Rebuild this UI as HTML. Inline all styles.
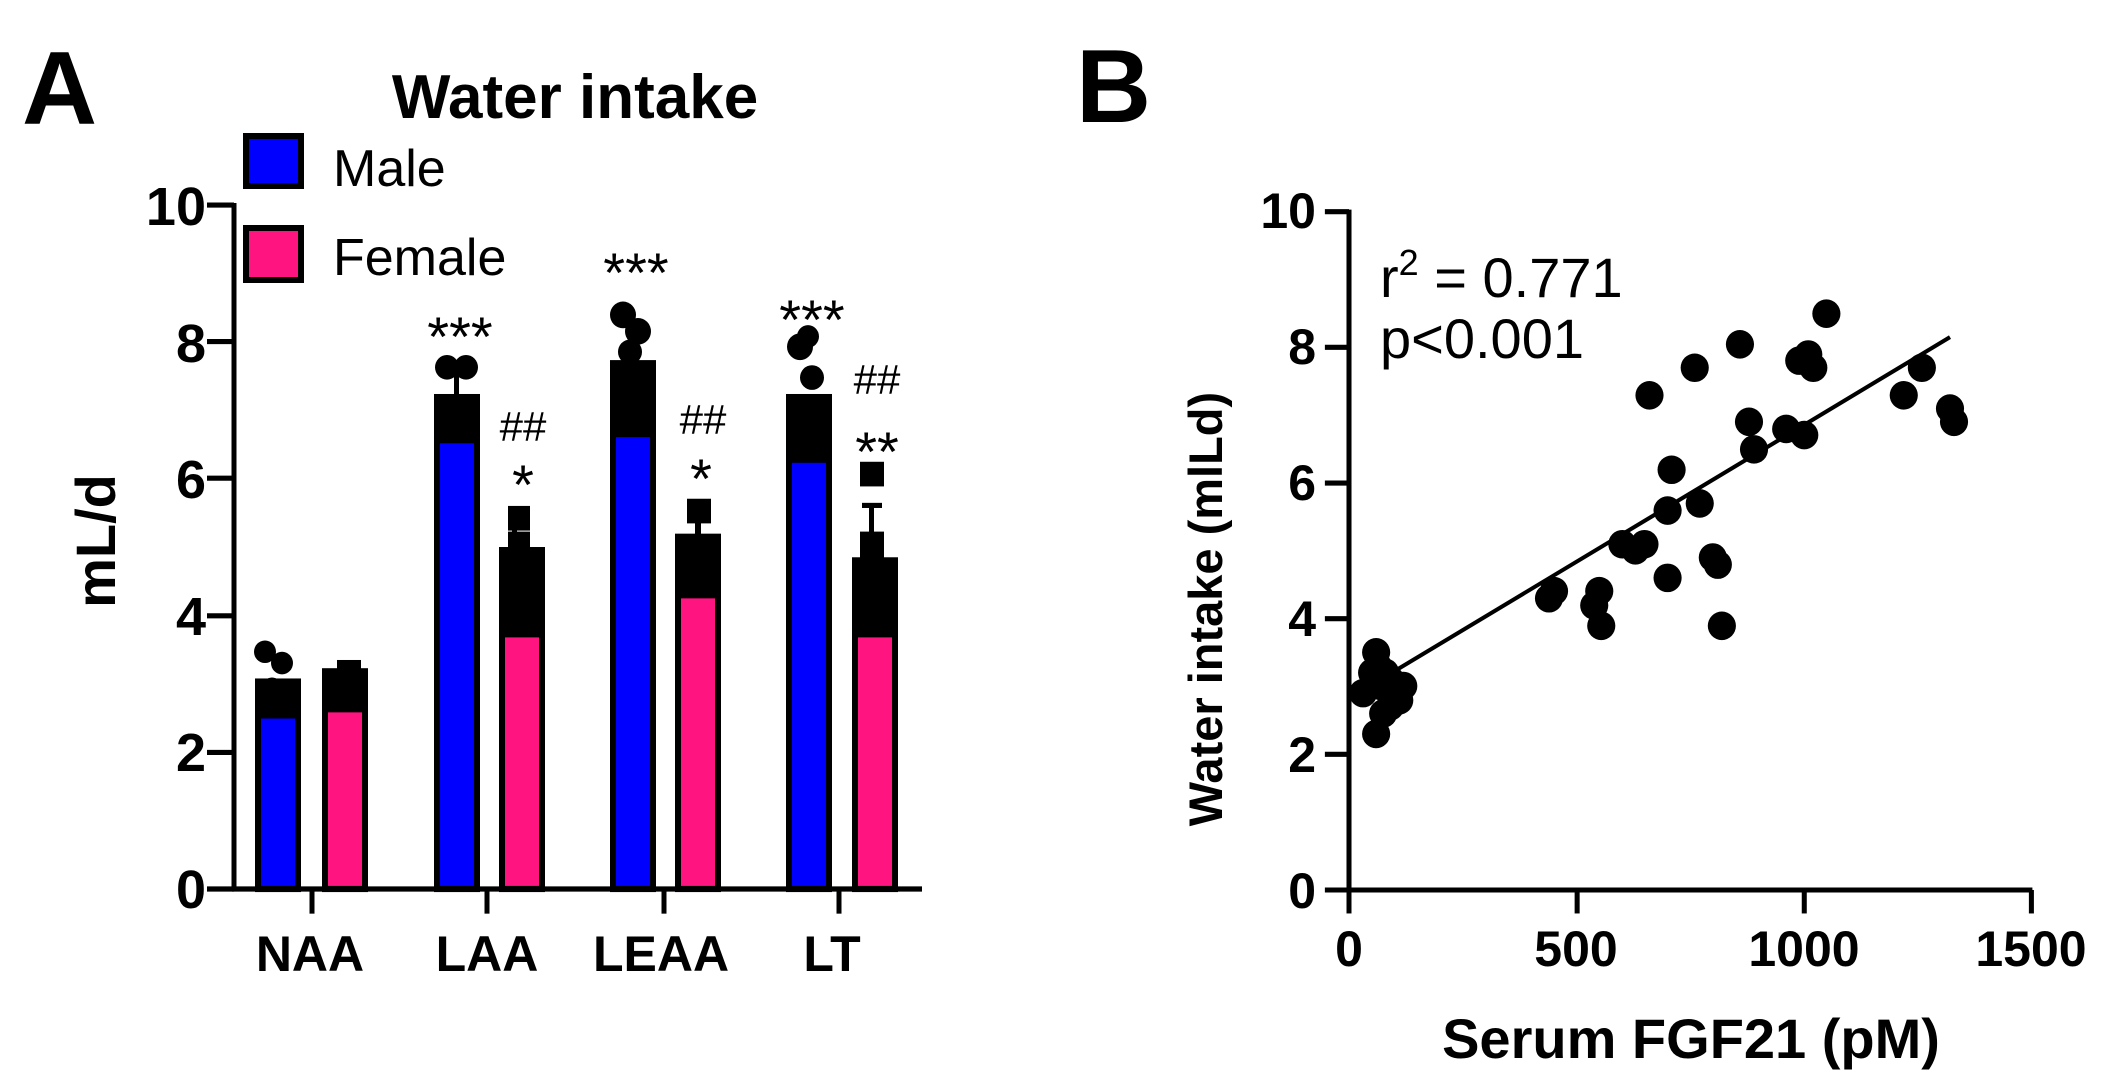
<!DOCTYPE html>
<html><head><meta charset="utf-8"><style>
html,body{margin:0;padding:0;background:#fff}
svg{display:block}
text{font-family:"Liberation Sans",Arial,sans-serif}
</style></head><body>
<svg width="2110" height="1087" viewBox="0 0 2110 1087" xmlns="http://www.w3.org/2000/svg">
<rect width="2110" height="1087" fill="#fff"/>
<!-- Panel A -->
<text x="22" y="124" font-size="104" font-weight="bold">A</text>
<text x="575" y="118" font-size="62" font-weight="bold" text-anchor="middle">Water intake</text>
<rect x="246" y="136" width="55" height="50" fill="#0000ff" stroke="#000" stroke-width="6"/>
<text x="333" y="186" font-size="52">Male</text>
<rect x="246" y="228" width="55" height="52" fill="#ff1480" stroke="#000" stroke-width="6"/>
<text x="333" y="275" font-size="52">Female</text>
<g transform="translate(0,889) scale(1,1.027) translate(0,-868)">
<g stroke="#000" stroke-width="5" fill="none">
<line x1="234" y1="200" x2="234" y2="868"/>
<line x1="232" y1="868" x2="922" y2="868"/>
<line x1="207" y1="202" x2="234" y2="202"/>
<line x1="207" y1="335" x2="234" y2="335"/>
<line x1="207" y1="468" x2="234" y2="468"/>
<line x1="207" y1="602" x2="234" y2="602"/>
<line x1="207" y1="735" x2="234" y2="735"/>
<line x1="207" y1="868" x2="234" y2="868"/>
<line x1="312" y1="868" x2="312" y2="892"/>
<line x1="487" y1="868" x2="487" y2="892"/>
<line x1="664" y1="868" x2="664" y2="892"/>
<line x1="839" y1="868" x2="839" y2="892"/>
</g>
<g stroke="#000" stroke-width="6">
<rect x="258" y="666" width="40" height="202" fill="#0000ff"/>
<rect x="325" y="656" width="40" height="212" fill="#ff1480"/>
<rect x="437" y="389" width="40" height="479" fill="#0000ff"/>
<rect x="502" y="538" width="40" height="330" fill="#ff1480"/>
<rect x="613" y="356" width="40" height="512" fill="#0000ff"/>
<rect x="678" y="525" width="40" height="343" fill="#ff1480"/>
<rect x="789" y="389" width="40" height="479" fill="#0000ff"/>
<rect x="855" y="548" width="40" height="320" fill="#ff1480"/>
</g>
<g fill="#000">
<rect x="258" y="666" width="40" height="36"/>
<rect x="325" y="656" width="40" height="40"/>
<rect x="437" y="389" width="40" height="45"/>
<rect x="502" y="538" width="40" height="85"/>
<rect x="613" y="356" width="40" height="72"/>
<rect x="678" y="525" width="40" height="60"/>
<rect x="789" y="389" width="40" height="64"/>
<rect x="855" y="548" width="40" height="75"/>
<circle cx="265" cy="637" r="11"/><circle cx="282" cy="648" r="11"/><circle cx="272" cy="672" r="10"/>
<rect x="337" y="645" width="24" height="22"/>
<circle cx="447" cy="360" r="12"/><circle cx="466" cy="360" r="12"/><rect x="454" y="360" width="5" height="30"/>
<rect x="508" y="495" width="22" height="24"/><rect x="508" y="520" width="22" height="24"/><rect x="512" y="508" width="5" height="20"/>
<circle cx="623" cy="309" r="13"/><circle cx="638" cy="325" r="13"/><circle cx="630" cy="345" r="12"/>
<rect x="687" y="488" width="24" height="24"/><rect x="695" y="510" width="6" height="16"/>
<circle cx="800" cy="340" r="13"/><circle cx="808" cy="330" r="11"/><circle cx="812" cy="370" r="12"/>
<rect x="860" y="452" width="24" height="24"/><rect x="860" y="520" width="24" height="26"/>
<rect x="869" y="495" width="5" height="30"/><rect x="862" y="492" width="20" height="5"/>
</g>
</g>
<g font-size="54" font-weight="bold" text-anchor="end">
<text x="206" y="225">10</text><text x="206" y="362">8</text><text x="206" y="498">6</text>
<text x="206" y="635">4</text><text x="206" y="771">2</text><text x="206" y="908">0</text>
</g>
<text transform="translate(115,541) rotate(-90)" font-size="56" font-weight="bold" text-anchor="middle">mL/d</text>
<g font-size="50" font-weight="bold" text-anchor="middle">
<text x="310" y="971">NAA</text><text x="487" y="971">LAA</text><text x="661" y="971">LEAA</text><text x="832" y="971">LT</text>
</g>
<g font-size="56" text-anchor="middle">
<text x="460" y="356">***</text>
<text x="636" y="292">***</text>
<text x="812" y="339">***</text>
<text x="523" y="504">*</text>
<text x="701" y="498">*</text>
<text x="877" y="471">**</text>
</g>
<g font-size="42" text-anchor="middle">
<text x="523" y="441">##</text>
<text x="703" y="434">##</text>
<text x="877" y="394">##</text>
</g>
<!-- Panel B -->
<text x="1076" y="122" font-size="104" font-weight="bold">B</text>
<g transform="translate(1349,890) scale(1.005,1.02) translate(-1346,-869)">
<g stroke="#000" stroke-width="5" fill="none">
<line x1="1346" y1="202" x2="1346" y2="869"/>
<line x1="1344" y1="869" x2="2026" y2="869"/>
<line x1="1322" y1="204" x2="1346" y2="204"/>
<line x1="1322" y1="337" x2="1346" y2="337"/>
<line x1="1322" y1="470" x2="1346" y2="470"/>
<line x1="1322" y1="603" x2="1346" y2="603"/>
<line x1="1322" y1="736" x2="1346" y2="736"/>
<line x1="1322" y1="869" x2="1346" y2="869"/>
<line x1="1346" y1="869" x2="1346" y2="892"/>
<line x1="1573" y1="869" x2="1573" y2="892"/>
<line x1="1799" y1="869" x2="1799" y2="892"/>
<line x1="2025" y1="869" x2="2025" y2="892"/>
<line x1="1360" y1="673" x2="1944" y2="327" stroke-width="4"/>
</g>
<g fill="#000">
<circle cx="1360" cy="676" r="14"/><circle cx="1369" cy="656" r="14"/><circle cx="1373" cy="636" r="14"/>
<circle cx="1375" cy="650" r="14"/><circle cx="1378" cy="669" r="14"/><circle cx="1380" cy="696" r="14"/>
<circle cx="1373" cy="716" r="14"/><circle cx="1382" cy="656" r="14"/><circle cx="1387" cy="663" r="14"/>
<circle cx="1391" cy="676" r="14"/><circle cx="1396" cy="683" r="14"/><circle cx="1400" cy="669" r="14"/>
<circle cx="1387" cy="689" r="14"/><circle cx="1545" cy="583" r="14"/><circle cx="1550" cy="576" r="14"/>
<circle cx="1590" cy="590" r="14"/><circle cx="1595" cy="576" r="14"/><circle cx="1597" cy="610" r="14"/>
<circle cx="1618" cy="530" r="14"/><circle cx="1631" cy="536" r="14"/><circle cx="1640" cy="530" r="14"/>
<circle cx="1645" cy="384" r="14"/><circle cx="1663" cy="497" r="14"/><circle cx="1663" cy="563" r="14"/>
<circle cx="1667" cy="457" r="14"/><circle cx="1690" cy="357" r="14"/><circle cx="1695" cy="490" r="14"/>
<circle cx="1708" cy="543" r="14"/><circle cx="1713" cy="550" r="14"/><circle cx="1717" cy="610" r="14"/>
<circle cx="1735" cy="334" r="14"/><circle cx="1744" cy="410" r="14"/><circle cx="1749" cy="437" r="14"/>
<circle cx="1781" cy="417" r="14"/><circle cx="1794" cy="350" r="14"/><circle cx="1799" cy="423" r="14"/>
<circle cx="1803" cy="344" r="14"/><circle cx="1808" cy="357" r="14"/><circle cx="1821" cy="304" r="14"/>
<circle cx="1898" cy="384" r="14"/><circle cx="1916" cy="357" r="14"/><circle cx="1944" cy="397" r="14"/>
<circle cx="1948" cy="410" r="14"/>
</g>
</g>
<g font-size="50" font-weight="bold" text-anchor="end">
<text x="1316" y="228">10</text><text x="1316" y="364">8</text><text x="1316" y="500">6</text>
<text x="1316" y="636">4</text><text x="1316" y="772">2</text><text x="1316" y="908">0</text>
</g>
<g font-size="50" font-weight="bold" text-anchor="middle">
<text x="1349" y="966">0</text><text x="1576" y="966">500</text><text x="1804" y="966">1000</text><text x="2031" y="966">1500</text>
</g>
<text x="1691" y="1058" font-size="56" font-weight="bold" text-anchor="middle">Serum FGF21 (pM)</text>
<text transform="translate(1222,609) rotate(-90)" font-size="47" font-weight="bold" text-anchor="middle">Water intake (mlLd)</text>
<text x="1380" y="297" font-size="56">r<tspan font-size="36" dy="-22">2</tspan><tspan dy="22"> = 0.771</tspan></text>
<text x="1380" y="358" font-size="56">p&lt;0.001</text>
</svg>
</body></html>
